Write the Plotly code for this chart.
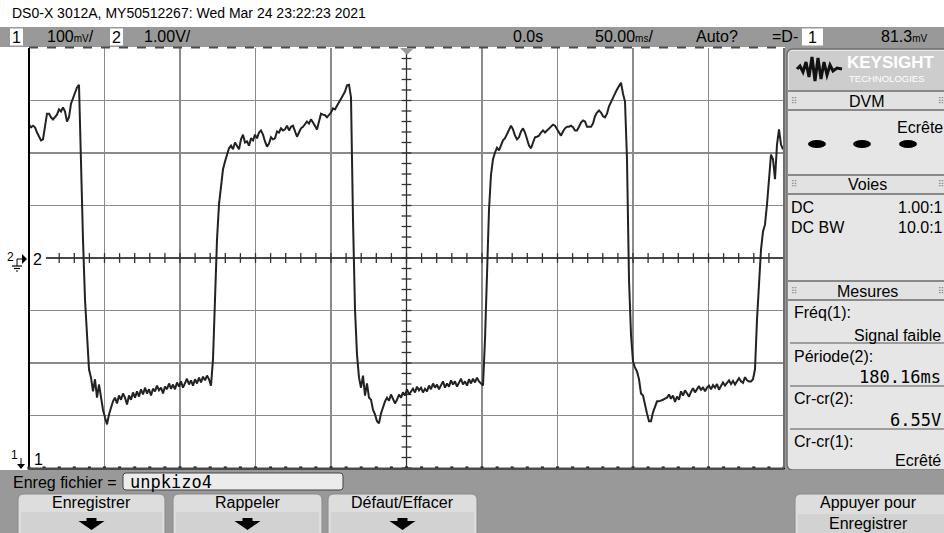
import numpy as np
import plotly.graph_objects as go

# ---------------- data (channel 2, volts; sampled every DT_MS from T0_MS) ----------------
T0_MS = -250.0
DT_MS = 1.3245
ch2_volts = [
    2.54, 2.49, 2.52, 2.49, 2.39, 2.31, 2.24, 2.26, 2.49, 2.75,
    2.75, 2.68, 2.64, 2.68, 2.73, 2.83, 2.79, 2.87, 2.79, 2.60,
    2.68, 2.94, 3.04, 3.11, 3.25, 3.30, 1.69, 0.35, -0.79, -1.55,
    -2.12, -2.28, -2.54, -2.31, -2.66, -2.41, -2.70, -2.89, -3.04, -3.17,
    -2.98, -2.85, -2.73, -2.66, -2.77, -2.62, -2.70, -2.58, -2.66, -2.79,
    -2.62, -2.70, -2.56, -2.66, -2.54, -2.64, -2.50, -2.60, -2.47, -2.58,
    -2.50, -2.62, -2.49, -2.54, -2.43, -2.52, -2.47, -2.58, -2.45, -2.50,
    -2.39, -2.49, -2.41, -2.50, -2.37, -2.45, -2.35, -2.47, -2.39, -2.30,
    -2.41, -2.33, -2.43, -2.31, -2.39, -2.28, -2.37, -2.26, -2.33, -2.24,
    -2.31, -2.43, -1.93, -0.60, 0.35, 1.02, 1.40, 1.69, 1.84, 1.97,
    2.09, 2.14, 2.07, 2.20, 2.14, 2.07, 2.26, 2.35, 2.20, 2.22,
    2.14, 2.28, 2.24, 2.35, 2.28, 2.39, 2.43, 2.35, 2.22, 2.12,
    2.18, 2.30, 2.26, 2.28, 2.41, 2.39, 2.47, 2.43, 2.45, 2.52,
    2.43, 2.50, 2.52, 2.41, 2.31, 2.39, 2.47, 2.50, 2.56, 2.60,
    2.56, 2.64, 2.58, 2.50, 2.45, 2.60, 2.75, 2.73, 2.72, 2.68,
    2.72, 2.77, 2.85, 2.83, 2.90, 2.96, 3.02, 3.10, 3.17, 3.29,
    3.30, 3.06, 0.73, -0.98, -1.84, -2.28, -2.47, -2.24, -2.62, -2.39,
    -2.66, -2.70, -2.89, -2.98, -3.11, -3.15, -2.96, -2.83, -2.73, -2.66,
    -2.72, -2.60, -2.68, -2.77, -2.70, -2.60, -2.66, -2.56, -2.62, -2.50,
    -2.60, -2.54, -2.49, -2.56, -2.45, -2.52, -2.47, -2.56, -2.49, -2.54,
    -2.43, -2.50, -2.39, -2.47, -2.41, -2.50, -2.43, -2.35, -2.47, -2.39,
    -2.45, -2.33, -2.41, -2.35, -2.45, -2.37, -2.30, -2.41, -2.35, -2.43,
    -2.31, -2.39, -2.30, -2.37, -2.28, -2.35, -2.39, -2.43, -1.55, -0.03,
    0.92, 1.59, 1.88, 2.01, 2.10, 2.05, 2.14, 2.24, 2.28, 2.37,
    2.45, 2.52, 2.45, 2.33, 2.26, 2.30, 2.41, 2.47, 2.39, 2.28,
    2.14, 2.09, 2.20, 2.30, 2.31, 2.33, 2.39, 2.43, 2.39, 2.43,
    2.47, 2.50, 2.54, 2.52, 2.45, 2.37, 2.33, 2.41, 2.47, 2.50,
    2.50, 2.52, 2.49, 2.43, 2.43, 2.50, 2.58, 2.62, 2.60, 2.50,
    2.50, 2.50, 2.56, 2.70, 2.77, 2.81, 2.77, 2.70, 2.68, 2.75,
    2.89, 2.98, 3.06, 3.13, 3.21, 3.29, 3.34, 3.13, 2.98, 1.88,
    -0.41, -1.46, -1.97, -2.09, -2.16, -2.31, -2.58, -2.62, -2.81, -2.96,
    -3.11, -3.11, -2.94, -2.81, -2.73, -2.73, -2.72, -2.70, -2.68, -2.66,
    -2.60, -2.68, -2.62, -2.74, -2.64, -2.70, -2.54, -2.62, -2.52, -2.58,
    -2.64, -2.55, -2.48, -2.56, -2.50, -2.44, -2.52, -2.46, -2.54, -2.47,
    -2.43, -2.50, -2.42, -2.47, -2.40, -2.51, -2.44, -2.37, -2.43, -2.38,
    -2.33, -2.40, -2.34, -2.41, -2.36, -2.29, -2.35, -2.38, -2.27, -2.33,
    -2.35, -2.35, -2.31, -2.12, -1.17, -0.41, 0.16, 0.50, 0.64, 1.02,
    1.50, 1.97, 1.88, 1.50, 2.16, 2.45, 2.16, 2.07,
]
time_ms = T0_MS + DT_MS * np.arange(len(ch2_volts))

X_RANGE = [-250, 250]      # 50 ms/div, 10 div
Y_RANGE = [-4, 4]          # 1.00 V/div, 8 div
X_DIV = 50
Y_DIV = 1

title_text = "DS0-X 3012A, MY50512267: Wed Mar 24 23:22:23 2021"
meas_labels = ["Fréq(1):", "Période(2):", "Cr-cr(2):", "Cr-cr(1):"]
meas_values = ["Signal faible", "180.16ms", "6.55V", "Ecrêté"]
button_labels = ["Enregistrer", "Rappeler", "Défaut/Effacer"]

# ---------------- page geometry helpers ----------------
W, H = 944, 533
L, R, T, B = 29, 784, 48, 468
FONT = "Liberation Sans, Arial, sans-serif"
MONO = "DejaVu Sans Mono, Liberation Mono, monospace"


def fx(x):
    return (x - L) / (R - L)


def fy(y):
    return (B - y) / (B - T)


def P(x, y):
    return f"{fx(x):.5f},{fy(y):.5f}"


shapes = []
annotations = []


def rect(x0, y0, x1, y1, fill, line=None, lw=0, layer="above"):
    shapes.append(dict(type="rect", xref="paper", yref="paper", x0=fx(x0), x1=fx(x1),
                       y0=fy(y1), y1=fy(y0), fillcolor=fill,
                       line=dict(color=line or fill, width=lw), layer=layer))


def rrect(x0, y0, x1, y1, r, fill, line=None, lw=0):
    path = (f"M{P(x0 + r, y0)} L{P(x1 - r, y0)} Q{P(x1, y0)} {P(x1, y0 + r)} "
            f"L{P(x1, y1 - r)} Q{P(x1, y1)} {P(x1 - r, y1)} L{P(x0 + r, y1)} "
            f"Q{P(x0, y1)} {P(x0, y1 - r)} L{P(x0, y0 + r)} Q{P(x0, y0)} {P(x0 + r, y0)} Z")
    shapes.append(dict(type="path", xref="paper", yref="paper", path=path, fillcolor=fill,
                       line=dict(color=line or fill, width=lw), layer="above"))


def poly(pts, fill, line=None, lw=0, closed=True):
    path = "M" + " L".join(P(x, y) for x, y in pts) + (" Z" if closed else "")
    shapes.append(dict(type="path", xref="paper", yref="paper", path=path,
                       fillcolor=fill if closed else None,
                       line=dict(color=line or fill, width=lw), layer="above"))


def hline(x0, x1, y, color, w, dash="solid"):
    shapes.append(dict(type="line", xref="paper", yref="paper", x0=fx(x0), x1=fx(x1),
                       y0=fy(y), y1=fy(y), line=dict(color=color, width=w, dash=dash), layer="above"))


def vline(x, y0, y1, color, w, dash="solid"):
    shapes.append(dict(type="line", xref="paper", yref="paper", x0=fx(x), x1=fx(x),
                       y0=fy(y0), y1=fy(y1), line=dict(color=color, width=w, dash=dash), layer="above"))


def txt(s, x, y, size=16, anchor="left", color="#000", family=FONT):
    annotations.append(dict(text=s, x=fx(x), y=fy(y), xref="paper", yref="paper",
                            xanchor=anchor, yanchor="middle", showarrow=False,
                            borderpad=0, font=dict(family=family, size=size, color=color)))


# ---------------- figure ----------------
fig = go.Figure()

# centre-line graticule ticks (minor divisions, 1/5 div)
hx = np.arange(X_RANGE[0], X_RANGE[1] + 0.1, X_DIV / 5)
fig.add_trace(go.Scatter(x=hx, y=np.zeros_like(hx), mode="markers", hoverinfo="skip",
                         marker=dict(symbol="line-ns", size=7, line=dict(color="#303030", width=1.3))))
vy = np.arange(Y_RANGE[0], Y_RANGE[1] + 0.01, Y_DIV / 5)
fig.add_trace(go.Scatter(x=np.zeros_like(vy), y=vy, mode="markers", hoverinfo="skip",
                         marker=dict(symbol="line-ew", size=7, line=dict(color="#303030", width=1.3))))
# bottom-border dots
fig.add_trace(go.Scatter(x=hx, y=np.full_like(hx, Y_RANGE[0]), mode="markers", hoverinfo="skip",
                         cliponaxis=False,
                         marker=dict(symbol="square", size=3, color="#000")))

# waveform
fig.add_trace(go.Scatter(x=time_ms, y=ch2_volts, mode="lines", hoverinfo="skip",
                         line=dict(color="#222222", width=2)))

# centre cross lines
shapes.append(dict(type="line", xref="x", yref="y", x0=0, x1=0, y0=Y_RANGE[0], y1=Y_RANGE[1],
                   line=dict(color="#303030", width=1.3), layer="between"))
shapes.append(dict(type="line", xref="x", yref="y", x0=X_RANGE[0], x1=X_RANGE[1], y0=0, y1=0,
                   line=dict(color="#303030", width=1.3), layer="between"))

# ---- status bar ----
rect(0, 27, W, 47, "#999999")
hline(L, R, 47.5, "#4a4a4a", 2, "dash")
rect(10, 28.5, 23, 45.5, "#ffffff")
txt("1", 16.5, 37, 16, "center")
txt("100<span style='font-size:10px'>mV</span>/", 46, 36)
rect(110, 28.5, 123, 45.5, "#ffffff")
txt("2", 116.5, 37, 16, "center")
txt("1.00V/", 143, 36)
txt("0.0s", 512, 36)
txt("50.00<span style='font-size:10px'>ms</span>/", 594, 36)
txt("Auto?", 695, 36)
txt("=D-", 771, 36, 16)
rect(802, 28.5, 823, 45.5, "#ffffff")
txt("1", 812.5, 37, 16, "center")
txt("81.3<span style='font-size:10px'>mV</span>", 880, 36)

# title
txt(title_text, 11, 13, 14)

# ---- graticule borders ----
vline(L, T, B, "#000000", 2)
vline(R, T, B, "#6e6e6e", 2)
hline(L, R, 469, "#4a4a4a", 3)
# trigger-position marker
poly([(400, 48), (414, 48), (407, 55)], "#9a9a9a")

# left channel markers
rect(30, 251, 46, 267, "#ffffff")
txt("2", 37.5, 259, 16, "center")
txt("2", 10, 257, 12, "center")
poly([(22, 254), (27, 259), (22, 264)], "#000")
vline(17, 259, 266, "#000", 1)
hline(17, 22, 259, "#000", 1)
hline(12, 22, 266, "#000", 1.2)
hline(14, 20, 268.5, "#000", 1.2)
hline(16, 18, 271, "#000", 1.2)
txt("1", 15, 455, 12, "center")
txt("1", 38, 459, 16, "center")
vline(21, 458, 464, "#000", 1)
poly([(17, 464), (25, 464), (21, 469)], "#000")

# ---- right panel ----
rect(R + 1, 47, W, 470, "#999999")
rrect(787, 49, 950, 470, 6, "#e6e6e6", "#6e6e6e", 1.5)
rect(789, 51, W, 90, "#cdcdcd")
poly([(797, 69), (800, 66), (803, 72), (806, 62), (809, 77), (812, 57), (815, 81),
      (818, 58), (821, 79), (824, 62), (827, 75), (830, 65), (833, 71), (837, 68), (842, 69)],
     None, "#111", 3, closed=False)
txt("<b>KEYSIGHT</b>", 846, 63, 17, "left", "#ffffff")
txt("TECHNOLOGIES", 848, 79, 9.5, "left", "#ffffff")

for y0, y1, label in [(91, 110, "DVM"), (175, 194, "Voies"), (281, 300, "Mesures")]:
    rect(789, y0, W, y1, "#e2e2e2")
    hline(788, W, y0, "#6a6a6a", 1.5)
    hline(788, W, y1, "#6a6a6a", 1.5)
    txt(label, 867, (y0 + y1) / 2 + 0.5, 16, "center")
    txt("⠿", 794, (y0 + y1) / 2, 9, "center", "#888", "DejaVu Sans, sans-serif")
    txt("⠿", 941, (y0 + y1) / 2, 9, "center", "#888", "DejaVu Sans, sans-serif")

txt("Ecrête", 944, 127, 16, "right")
for cx in (817, 862, 908):
    shapes.append(dict(type="circle", xref="paper", yref="paper", x0=fx(cx - 9), x1=fx(cx + 9),
                       y0=fy(148), y1=fy(140), fillcolor="#000", line=dict(color="#000", width=0)))
txt("DC", 790, 207, 16)
txt("1.00:1", 944, 207, 16, "right")
txt("DC BW", 790, 227, 16)
txt("10.0:1", 944, 227, 16, "right")

meas_rows = [(312, 335), (356, 377), (398, 420), (441, 460)]
for (ly, vy_), lab, val in zip(meas_rows, meas_labels, meas_values):
    txt(lab, 793, ly, 16)
    mono = val[0].isdigit()
    txt(val, 942, vy_, 17 if mono else 16, "right", "#000", MONO if mono else FONT)
for sy in (343, 386, 429):
    hline(790, W, sy, "#555555", 1)

# ---- bottom soft-key area ----
rect(0, 470, W, H, "#999999")
vline(L, 466, 470, "#4a4a4a", 1)
txt("Enreg fichier =", 12, 482, 16)
rrect(123, 473, 343, 490, 3, "#ececec", "#444", 1)
txt("unpkizo4", 129, 482, 17, "left", "#000", MONO)

for (x0, x1), lab in zip([(18, 165), (173, 322), (328, 477)], button_labels):
    rrect(x0, 494, x1, 545, 6, "#dddddd", "#8a8a8a", 1)
    rect(x0 + 3, 512, x1 - 3, 533, "#d2d2d2")
    cx = (x0 + x1) / 2
    txt(lab, cx, 503, 16, "center")
    poly([(cx - 5, 518), (cx + 5, 518), (cx + 5, 521), (cx + 13, 521), (cx, 530),
          (cx - 13, 521), (cx - 5, 521)], "#000")

rrect(795, 494, 955, 545, 6, "#dddddd", "#8a8a8a", 1)
rect(798, 514, W, 533, "#d2d2d2")
txt("Appuyer pour", 869, 503, 16, "center")
txt("Enregistrer", 869, 523, 16, "center")

fig.update_layout(
    width=W, height=H,
    margin=dict(l=L, r=W - R, t=T, b=H - B, pad=0),
    paper_bgcolor="#ffffff", plot_bgcolor="#ffffff",
    showlegend=False,
    xaxis=dict(range=X_RANGE, dtick=X_DIV, tick0=0, showgrid=True, gridcolor="#8a8a8a",
               gridwidth=1.5, zeroline=False, showticklabels=False, ticks="", showline=False,
               fixedrange=True),
    yaxis=dict(range=Y_RANGE, dtick=Y_DIV, tick0=0, showgrid=True, gridcolor="#8a8a8a",
               gridwidth=1.5, zeroline=False, showticklabels=False, ticks="", showline=False,
               fixedrange=True),
    shapes=shapes,
    annotations=annotations,
)

fig.write_html("out.html", config={"displayModeBar": False, "staticPlot": True},
               post_script="document.body.style.margin='0px';document.body.style.overflow='hidden';")
